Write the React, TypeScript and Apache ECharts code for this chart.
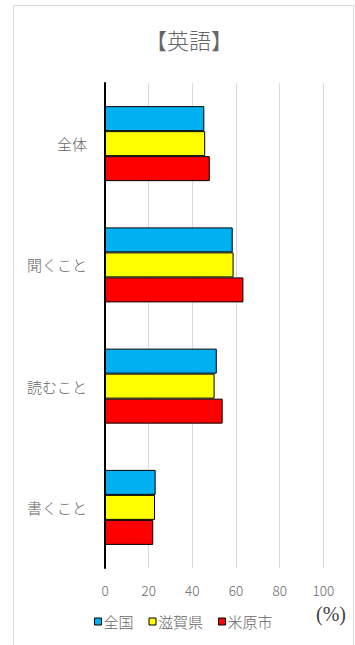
import React, { useEffect, useRef } from "react";
import * as echarts from "echarts";

const categories = ["全体", "聞くこと", "読むこと", "書くこと"];
const seriesNames = ["全国", "滋賀県", "米原市"];
const zenkoku = [45.5, 58.5, 51.2, 23.2];
const shiga = [45.9, 58.9, 50.2, 22.9];
const maibara = [48.0, 63.4, 53.9, 22.1];
const colors = ["#00B0F0", "#FFFF00", "#FF0000"];
const xTicks = { min: 0, max: 100, interval: 20 };

const CJK = "'Noto Sans CJK JP', 'Noto Sans', sans-serif";
const TXT = "#666666";

export default function App() {
  const ref = useRef<HTMLDivElement>(null);
  useEffect(() => {
    if (!ref.current) return;
    const chart = echarts.init(ref.current, null, { renderer: "svg" });
    const data = [zenkoku, shiga, maibara];
    chart.setOption({
      animation: false,
      backgroundColor: "#ffffff",
      title: {
        text: "【英語】",
        left: 184,
        textAlign: "center",
        top: 23,
        textStyle: { fontFamily: CJK, fontSize: 22, fontWeight: 300, color: TXT },
      },
      graphic: [
        {
          type: "rect",
          shape: { x: 13.5, y: 5.5, width: 340, height: 660 },
          style: { fill: "none", stroke: "#d9d9d9", lineWidth: 1 },
          silent: true,
          z: -1,
        },
        {
          type: "text",
          left: 316,
          top: 604,
          style: { text: "(%)", fontFamily: "Liberation Serif", fontSize: 20, fill: "#404040" },
        },
      ],
      legend: {
        data: seriesNames,
        left: 89,
        top: 609,
        icon: "rect",
        itemWidth: 7,
        itemHeight: 7,
        itemGap: 15,
        itemStyle: { borderColor: "#000", borderWidth: 1 },
        textStyle: { fontFamily: CJK, fontSize: 15, fontWeight: 300, color: TXT, padding: [0, 0, 0, -3] },
      },
      grid: { left: 105, right: 31.7, top: 83, bottom: 77, containLabel: false },
      xAxis: {
        type: "value",
        min: xTicks.min,
        max: xTicks.max,
        interval: xTicks.interval,
        axisLine: { show: false },
        axisTick: { show: false },
        splitLine: { show: true, lineStyle: { color: "#d9d9d9", width: 1 } },
        axisLabel: { margin: 15, fontFamily: CJK, fontSize: 13.5, fontWeight: 300, color: TXT },
      },
      yAxis: {
        type: "category",
        data: categories,
        inverse: true,
        axisLine: { show: true, lineStyle: { color: "#000", width: 2 } },
        axisTick: { show: false },
        axisLabel: { margin: 18, fontFamily: CJK, fontSize: 15, fontWeight: 300, color: TXT },
      },
      series: seriesNames.map((name, i) => ({
        name,
        type: "bar",
        data: data[i],
        barWidth: 25,
        barGap: "0%",
        barCategoryGap: "38%",
        itemStyle: { color: colors[i], borderColor: "#000", borderWidth: 1 },
      })),
    });
    return () => chart.dispose();
  }, []);
  return <div ref={ref} style={{ position: "fixed", left: 0, top: 0, width: 355, height: 645 }} />;
}
